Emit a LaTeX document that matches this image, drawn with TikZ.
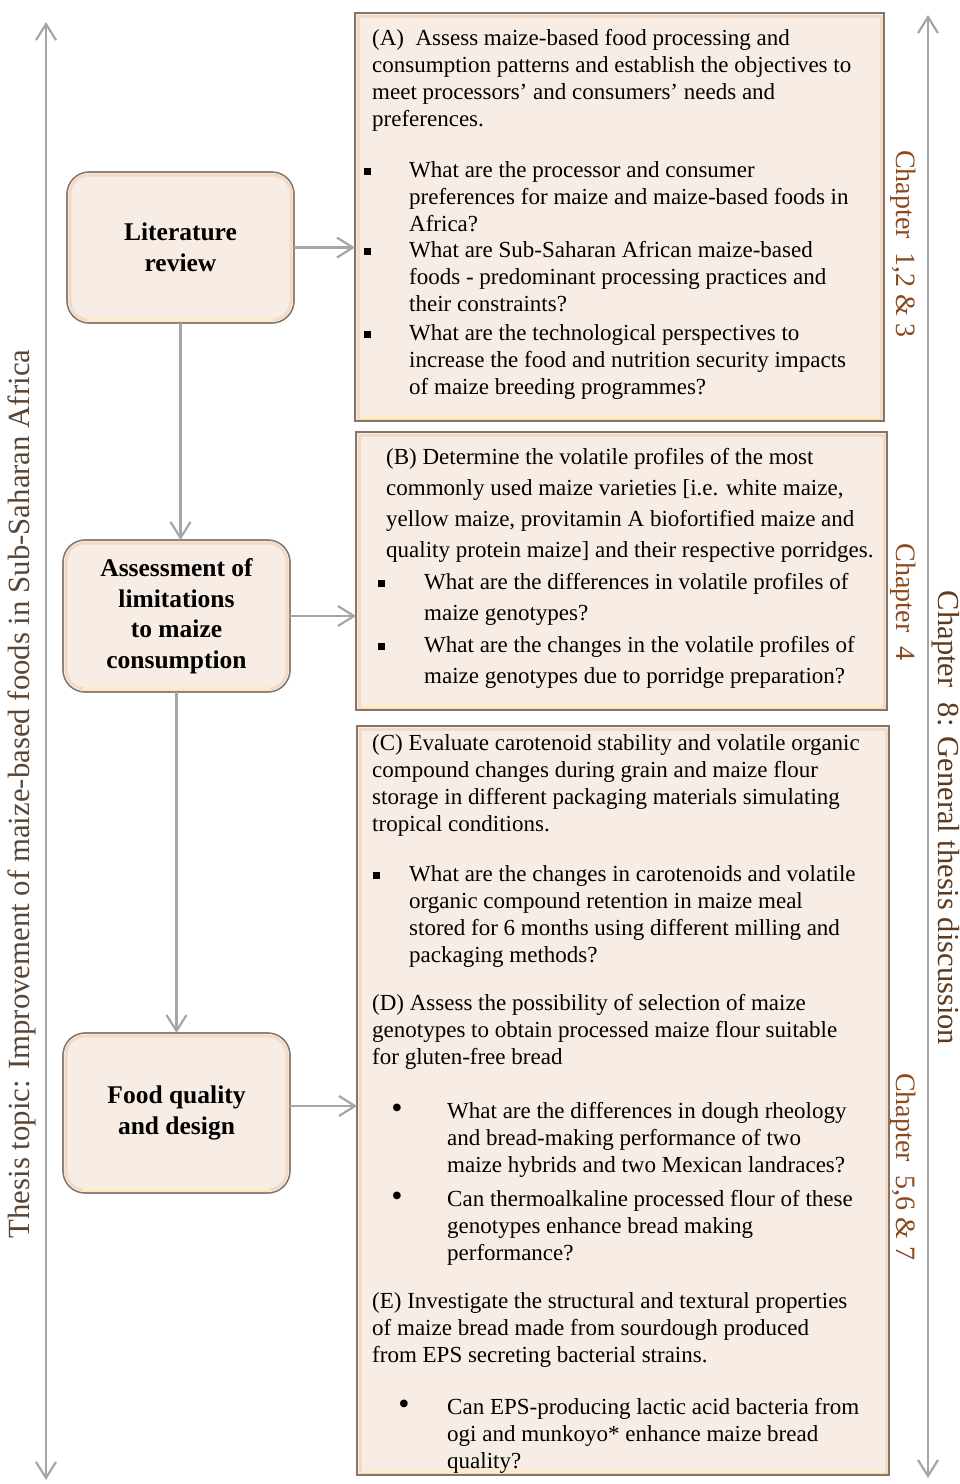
\documentclass[tikz,border=0pt]{standalone}
\usepackage{fontspec}
\setmainfont{Liberation Serif}
\usetikzlibrary{arrows.meta}
\definecolor{boxfill}{HTML}{F8EDE4}
\definecolor{boxline}{HTML}{857468}
\definecolor{bevelc}{HTML}{F0D3BD}
\definecolor{glowc}{HTML}{FFEBC4}
\definecolor{arrowc}{HTML}{A6A6A6}
\definecolor{chapc}{HTML}{8B4A1E}
\definecolor{discc}{HTML}{5E3A1E}
\definecolor{topicc}{HTML}{5B4636}
\newcommand\mylines[1]{\begin{tabular}[t]{@{}l@{}}#1\end{tabular}}
\newcommand\sqb{\rule[2pt]{7pt}{7pt}}
\newcommand\rdb{{\fontsize{32}{27}\selectfont\textbullet}}
\begin{document}
\begin{tikzpicture}[x=1pt,y=-1pt,
  bigbox/.style={rectangle, draw=boxline, line width=1.2pt, fill=boxfill, inner sep=0pt, outer sep=0pt},
  lbox/.style={rectangle, rounded corners=22pt, draw=boxline, line width=1.2pt, fill=boxfill,
    minimum width=227pt, inner sep=0pt, outer sep=0pt, align=center,
    font=\fontsize{25.5}{30.5}\selectfont\bfseries},
  bevel/.style={draw=bevelc, line width=3pt, opacity=0.7},
  glow/.style={draw=glowc, line width=3pt},
  txt/.style={anchor=base west, inner sep=0pt, font=\fontsize{23}{27}\selectfont},
  txtB/.style={anchor=base west, inner sep=0pt, font=\fontsize{23}{31}\selectfont},
  txtC/.style={anchor=base west, inner sep=0pt, font=\fontsize{23}{27.3}\selectfont},
  bul/.style={anchor=base, inner sep=0pt, font=\fontsize{23}{27}\selectfont},
  flow/.style={draw=arrowc, line width=2.2pt, -{Straight Barb[length=16pt,width=20pt]}},
  axis/.style={draw=arrowc, line width=2.2pt, {Straight Barb[length=16pt,width=20pt]}-{Straight Barb[length=16pt,width=20pt]}},
  chap/.style={rotate=-90, inner sep=0pt, text=chapc, font=\fontsize{28}{28}\selectfont}
]
\useasboundingbox (0,0) rectangle (960,1484);
\fill[white] (0,0) rectangle (960,1484);

% big boxes
\node[bigbox, minimum width=529pt, minimum height=408pt] (boxA) at (619.5,217) {};
\node[bigbox, minimum width=531pt, minimum height=278pt] (boxB) at (621.5,571) {};
\node[bigbox, minimum width=532pt, minimum height=749pt] (boxC) at (623,1100.5) {};
\foreach \n in {boxA,boxB,boxC}{
  \draw[bevel] ([shift={(3,3)}]\n.north west) rectangle ([shift={(-3,-3)}]\n.south east);
  \draw[glow] ([shift={(5,-4)}]\n.south west) -- ([shift={(-5,-4)}]\n.south east);
  \draw[boxline, line width=1.2pt] (\n.north west) rectangle (\n.south east);
}

% left boxes
\node[lbox, minimum height=151pt] (lit) at (180.5,247.5) {Literature\\review};
\node[lbox, minimum height=152pt] (ass) at (176.5,616) {Assessment of\\limitations\\to maize\\consumption};
\node[lbox, minimum height=160pt] (food) at (176.5,1113) {Food quality\\and design};
\foreach \n in {lit,ass,food}{
  \draw[bevel, rounded corners=19pt] ([shift={(3,3)}]\n.north west) rectangle ([shift={(-3,-3)}]\n.south east);
  \draw[glow] ([shift={(20,-4)}]\n.south west) -- ([shift={(-20,-4)}]\n.south east);
  \draw[boxline, line width=1.2pt, rounded corners=22pt] (\n.north west) rectangle (\n.south east);
}

% box A text
\node[txt] (a0) at (372,45) {\mylines{(A)\ \ Assess maize-based food processing and\\consumption patterns and establish the objectives to\\meet processors’ and consumers’ needs and\\preferences.}};
\node[bul] (ab1) at (367,177) {\sqb};
\node[txt] (a1) at (409,177) {\mylines{What are the processor and consumer\\preferences for maize and maize-based foods in\\Africa?}};
\node[bul] (ab2) at (367,257) {\sqb};
\node[txt] (a2) at (409,257) {\mylines{What are Sub-Saharan African maize-based\\foods - predominant processing practices and\\their constraints?}};
\node[bul] (ab3) at (367,340) {\sqb};
\node[txt] (a3) at (409,340) {\mylines{What are the technological perspectives to\\increase the food and nutrition security impacts\\of maize breeding programmes?}};

% box B text
\node[txtB] (b0) at (386,464) {\mylines{(B) Determine the volatile profiles of the most\\commonly used maize varieties [i.e. white maize,\\yellow maize, provitamin A biofortified maize and\\quality protein maize] and their respective porridges.}};
\node[bul] (bb1) at (381,589) {\sqb};
\node[txtB] (b1) at (424,589) {\mylines{What are the differences in volatile profiles of\\maize genotypes?}};
\node[bul] (bb2) at (381,652) {\sqb};
\node[txtB] (b2) at (424,652) {\mylines{What are the changes in the volatile profiles of\\maize genotypes due to porridge preparation?}};

% box C text
\node[txtC] (c0) at (372,750) {\mylines{(C) Evaluate carotenoid stability and volatile organic\\compound changes during grain and maize flour\\storage in different packaging materials simulating\\tropical conditions.}};
\node[bul] (cb1) at (376,881) {\sqb};
\node[txtC] (c1) at (409,881) {\mylines{What are the changes in carotenoids and volatile\\organic compound retention in maize meal\\stored for 6 months using different milling and\\packaging methods?}};
\node[txtC] (d0) at (372,1010) {\mylines{(D) Assess the possibility of selection of maize\\genotypes to obtain processed maize flour suitable\\for gluten-free bread}};
\node[bul] (db1) at (397,1118) {\rdb};
\node[txtC] (d1) at (447,1118) {\mylines{What are the differences in dough rheology\\and bread-making performance of two\\maize hybrids and two Mexican landraces?}};
\node[bul] (db2) at (397,1206) {\rdb};
\node[txtC] (d2) at (447,1206) {\mylines{Can thermoalkaline processed flour of these\\genotypes enhance bread making\\performance?}};
\node[txtC] (e0) at (372,1308) {\mylines{(E) Investigate the structural and textural properties\\of maize bread made from sourdough produced\\from EPS secreting bacterial strains.}};
\node[bul] (eb1) at (404,1414) {\rdb};
\node[txtC] (e1) at (447,1414) {\mylines{Can EPS-producing lactic acid bacteria from\\ogi and munkoyo* enhance maize bread\\quality?}};

% chapter labels
\node[chap] (ch1) at (903,244) {Chapter\ \ 1,2 \& 3};
\node[chap] (ch4) at (903,602) {Chapter\ \ 4};
\node[chap] (ch5) at (903,1167) {Chapter\ \ 5,6 \& 7};

% side axes
\coordinate (lt) at (46,22);
\coordinate (lb) at (46,1480);
\coordinate (rt) at (928,15);
\coordinate (rb) at (928,1478);
\draw[axis] (lb) -- (lt);
\draw[axis] (rb) -- (rt);
\node[rotate=90, inner sep=0pt, text=topicc, font=\fontsize{30.8}{30.8}\selectfont] (topic) at (22,794) {Thesis topic: Improvement of maize-based foods in Sub-Saharan Africa};
\node[rotate=-90, inner sep=0pt, text=discc, font=\fontsize{30.5}{30.5}\selectfont] (disc) at (946,818) {Chapter\ \ 8: General thesis discussion};

% flow arrows
\draw[flow] (lit.east) -- (lit.east -| boxA.west);
\draw[flow] (lit.south) -- (lit.south |- ass.north);
\draw[flow] (ass.east) -- (ass.east -| boxB.west);
\draw[flow] (ass.south) -- (ass.south |- food.north);
\draw[flow] ([yshift=7]food.east) -- ([yshift=7]food.east -| boxC.west);
\end{tikzpicture}
\end{document}
